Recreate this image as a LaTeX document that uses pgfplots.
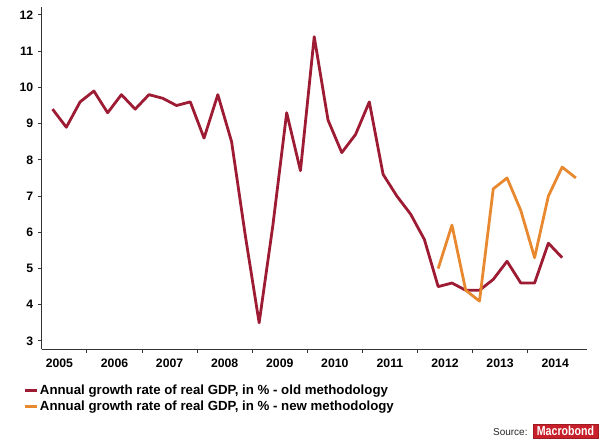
\documentclass[border=0pt]{standalone}
\usepackage{fontspec}
\setmainfont{Liberation Sans}
\usepackage{pgfplots}
\pgfplotsset{compat=1.18}
\definecolor{oldred}{HTML}{9E1B34}
\definecolor{neworange}{HTML}{E8892F}
\definecolor{mbred}{HTML}{C8202A}
\definecolor{axisgray}{HTML}{333333}
\begin{document}
\begin{tikzpicture}
\begin{axis}[
  at={(0bp,0bp)}, anchor=south west,
  scale only axis, width=545bp, height=342.3bp,
  xmin=2005.178, xmax=2015.071, ymin=2.77, ymax=12.22,
  axis x line*=bottom, axis y line*=left,
  axis line style={-, line width=1.2bp, axisgray},
  tick align=outside,
  tick style={line width=1bp, axisgray},
  major tick length=3.5bp,
  minor tick length=3.5bp,
  ytick={3,4,...,12},
  xtick={2005.5,2006.5,...,2014.5},
  xticklabels={2005,2006,2007,2008,2009,2010,2011,2012,2013,2014},
  minor xtick={2006,2007,...,2014},
  major x tick style={draw=none},
  /pgf/number format/assume math mode=true,
  ticklabel style={font=\bfseries\fontsize{12.3}{14}\selectfont, text=black},
  xticklabel style={yshift=-3bp},
  yticklabel style={xshift=-1.5bp},
  legend style={at={(-0.0325,-0.0999)}, anchor=north west, draw=none, fill=none,
    inner sep=0pt, outer sep=0pt, row sep=3.5bp,
    font=\bfseries\fontsize{13.3}{15}\selectfont, text=black,
    nodes={inner sep=1bp},
    /tikz/every even column/.append style={column sep=0pt}},
  legend cell align=left,
  legend image code/.code={\draw[line width=3bp] (0bp,0bp) -- (12bp,0bp);},
  clip=false,
]
\addplot[oldred, line width=2.8bp, line join=round] coordinates {
(2005.375,9.4) (2005.625,8.9) (2005.875,9.6) (2006.125,9.9) (2006.375,9.3)
(2006.625,9.8) (2006.875,9.4) (2007.125,9.8) (2007.375,9.7) (2007.625,9.5)
(2007.875,9.6) (2008.125,8.6) (2008.375,9.8) (2008.625,8.5) (2008.875,5.9)
(2009.125,3.5) (2009.375,6.2) (2009.625,9.3) (2009.875,7.7) (2010.125,11.4)
(2010.375,9.1) (2010.625,8.2) (2010.875,8.7) (2011.125,9.6) (2011.375,7.6)
(2011.625,7.0) (2011.875,6.5) (2012.125,5.8) (2012.375,4.5) (2012.625,4.6)
(2012.875,4.4) (2013.125,4.4) (2013.375,4.7) (2013.625,5.2) (2013.875,4.6)
(2014.125,4.6) (2014.375,5.7) (2014.625,5.3)
};
\addlegendentry{Annual growth rate of real GDP, in \% - old methodology}
\addplot[neworange, line width=2.8bp, line join=round] coordinates {
(2012.375,5.0) (2012.625,6.2) (2012.875,4.4) (2013.125,4.1) (2013.375,7.2)
(2013.625,7.5) (2013.875,6.6) (2014.125,5.3) (2014.375,7.0) (2014.625,7.8)
(2014.875,7.5)
};
\addlegendentry{Annual growth rate of real GDP, in \% - new methodology}
\end{axis}
\node[anchor=base west, font=\fontsize{10}{12}\selectfont, text=black!85, inner sep=0pt] at (451.3bp,-85.7bp) {Source:};
\node[fill=mbred, draw=mbred!80!black, line width=0.5bp, minimum width=65bp, minimum height=14bp, inner sep=0pt, text=white, font=\bfseries\fontsize{13}{14}\selectfont] at (523.8bp,-81.7bp) {\scalebox{0.82}[1]{Macrobond}};
\pgfresetboundingbox
\path (-41.7bp,-91.7bp) rectangle (566.3bp,349.3bp);
\end{tikzpicture}
\end{document}
